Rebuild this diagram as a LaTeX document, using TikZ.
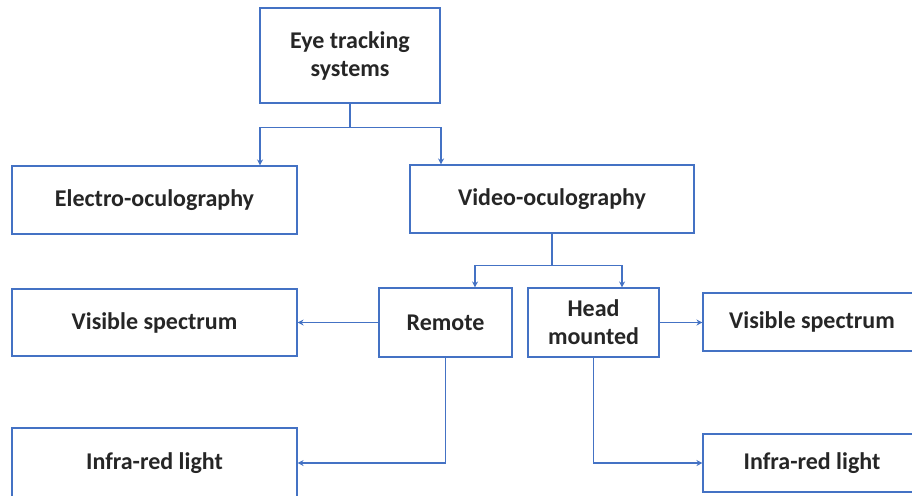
\documentclass[tikz,border=0pt]{standalone}
\usepackage{fontspec}
\setmainfont{Carlito}
\usetikzlibrary{arrows.meta}
\definecolor{bline}{HTML}{4472C4}
\definecolor{txt}{HTML}{262626}
\begin{document}
\begin{tikzpicture}[x=1pt,y=-1pt,
 box/.style={draw=bline,line width=1.1pt,fill=white,text=txt,font=\fontsize{24}{28}\selectfont\bfseries,align=center,inner sep=0pt},
 conn/.style={draw=bline,line width=1.4pt,-{Stealth[length=6pt,width=6pt]}}]
\useasboundingbox (0,0) rectangle (912,495);
\clip (0,0) rectangle (912,495);
\node[box,minimum width=180pt,minimum height=95pt] (eye) at (350,55.5) {Eye tracking\\systems};
\node[box,minimum width=285pt,minimum height=68pt] (eog) at (154.5,200) {Electro-oculography};
\node[box,minimum width=284pt,minimum height=68pt] (vog) at (552,199) {Video-oculography};
\node[box,minimum width=285pt,minimum height=67pt] (visL) at (154.5,322.5) {Visible spectrum};
\node[box,minimum width=133pt,minimum height=69pt] (remote) at (445.5,322.5) {Remote};
\node[box,minimum width=131pt,minimum height=69pt] (head) at (593.5,322.5) {Head\\mounted};
\node[box,minimum width=218pt,minimum height=58pt] (visR) at (812,322) {Visible spectrum};
\node[box,minimum width=285pt,minimum height=70pt] (irL) at (154.5,463) {Infra-red light};
\node[box,minimum width=218pt,minimum height=58pt] (irR) at (812,463) {Infra-red light};
\coordinate (tx1) at (260,0);
\coordinate (tx2) at (441,0);
\coordinate (tx3) at (475,0);
\coordinate (tx4) at (622,0);
\draw[conn] (eye.south) -- ++(0,24) -| (eog.north -| tx1);
\draw[conn] (eye.south) -- ++(0,24) -| (vog.north -| tx2);
\draw[conn] (vog.south) -- ++(0,32) -| (remote.north -| tx3);
\draw[conn] (vog.south) -- ++(0,32) -| (head.north -| tx4);
\draw[conn] (remote.west) -- (visL.east);
\draw[conn] (head.east) -- (head.east -| visR.west);
\draw[conn] (remote.south) |- (irL.east);
\draw[conn] (head.south) |- (irR.west);
\end{tikzpicture}
\end{document}
